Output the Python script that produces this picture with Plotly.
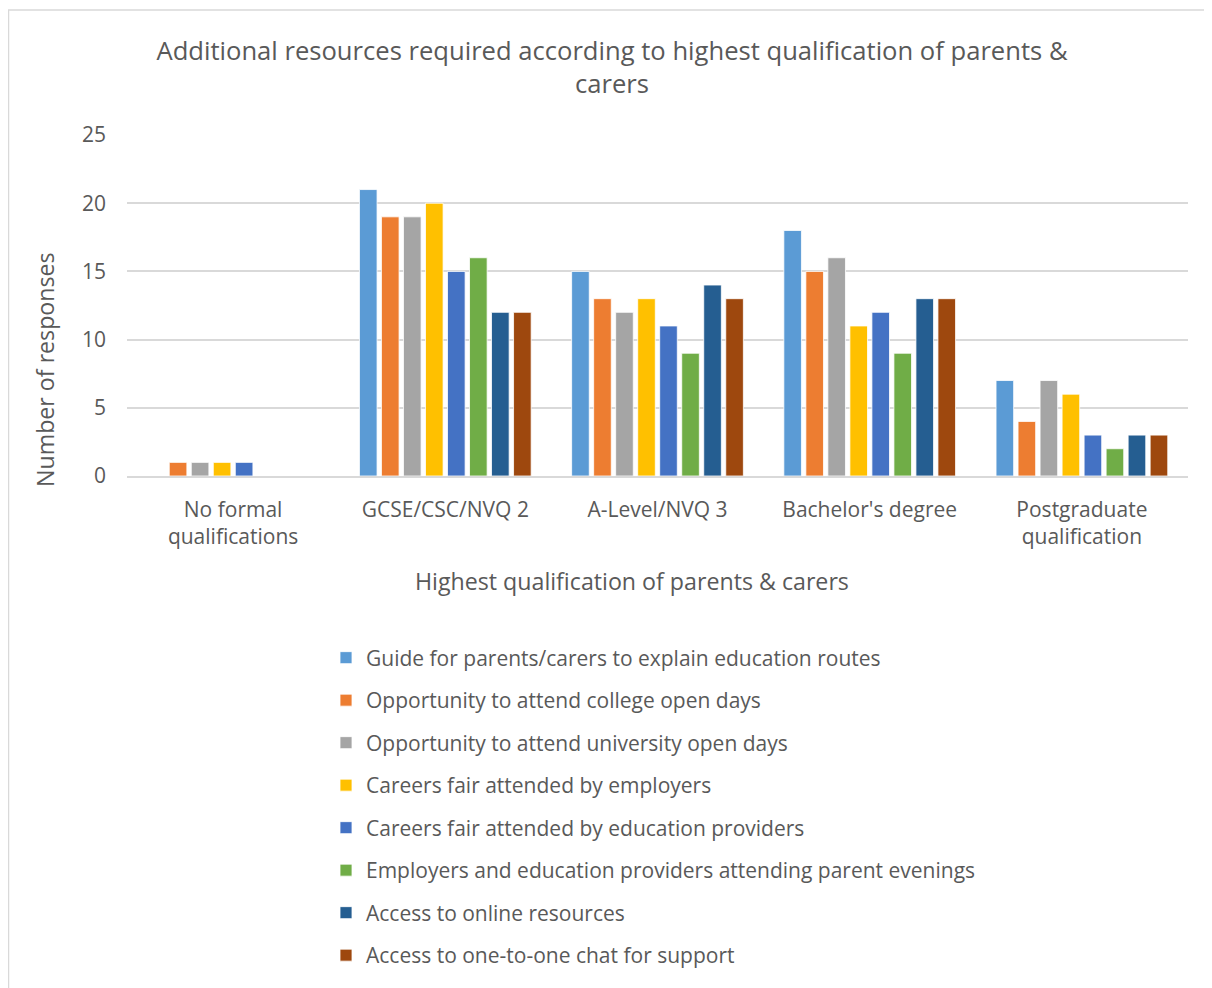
import plotly.graph_objects as go

categories = ["No formal<br>qualifications", "GCSE/CSC/NVQ 2", "A-Level/NVQ 3",
              "Bachelor's degree", "Postgraduate<br>qualification"]

series_names = [
    "Guide for parents/carers to explain education routes",
    "Opportunity to attend college open days",
    "Opportunity to attend university open days",
    "Careers fair attended by employers",
    "Careers fair attended by education providers",
    "Employers and education providers attending parent evenings",
    "Access to online resources",
    "Access to one-to-one chat for support",
]

guide_routes = [0, 21, 15, 18, 7]
college_open_days = [1, 19, 13, 15, 4]
university_open_days = [1, 19, 12, 16, 7]
fair_employers = [1, 20, 13, 11, 6]
fair_education = [1, 15, 11, 12, 3]
parent_evenings = [0, 16, 9, 9, 2]
online_resources = [0, 12, 14, 13, 3]
one_to_one_chat = [0, 12, 13, 13, 3]

series_values = [guide_routes, college_open_days, university_open_days, fair_employers,
                 fair_education, parent_evenings, online_resources, one_to_one_chat]

colors = ["#5B9BD5", "#ED7D31", "#A5A5A5", "#FFC000", "#4472C4", "#70AD47", "#255E91", "#9E480E"]

FONT = "Open Sans"
GREY = "#595959"

fig = go.Figure()
for i, (name, vals) in enumerate(zip(series_names, series_values)):
    fig.add_trace(go.Bar(
        x=categories, y=vals, name=name,
        marker=dict(color=colors[i], line=dict(color="white", width=0.8)),
        legendgroup=f"g{i}",
    ))

# page body adds an 8px offset; work in screenshot coordinates
OFF = 8
W, H = 1204, 980
L = 127 - OFF
T = 135 - OFF
R = W - (1188 - OFF)
B = H - (476 - OFF)
pw = W - L - R
ph = H - T - B

def px_x(sx):
    return (sx - OFF - L) / pw

def px_y(sy):
    return (H - B - (sy - OFF)) / ph

fig.update_layout(
    width=W, height=H,
    margin=dict(l=L, r=R, t=T, b=B),
    paper_bgcolor="white", plot_bgcolor="white",
    font=dict(family=FONT, color=GREY, size=18),
    barmode="group", bargap=0.17, bargroupgap=0.2,
    title=dict(text="Additional resources required according to highest qualification of parents &<br>carers",
               x=(612 - OFF) / W, xanchor="center",
               y=1 - (59.5 - OFF) / H, yanchor="middle",
               font=dict(size=25.6, color=GREY, family=FONT)),
    xaxis=dict(showgrid=False, showline=True, linecolor="#D9D9D9", linewidth=1.5,
               tickfont=dict(size=21, color=GREY), ticks="", ticklabelstandoff=14),
    yaxis=dict(range=[0, 25], dtick=5, showgrid=True, gridcolor="#D9D9D9", gridwidth=1.5,
               zeroline=False, showline=False, ticks="",
               tickfont=dict(size=21, color=GREY), ticklabelstandoff=20),
    legend=dict(orientation="v", x=px_x(326), xanchor="left", y=px_y(637.5), yanchor="top",
                font=dict(size=21, color=GREY, family=FONT), traceorder="grouped",
                tracegroupgap=12.2, itemwidth=30, bgcolor="rgba(0,0,0,0)"),
    showlegend=True,
)

fig.add_annotation(text="Number of responses", textangle=-90, x=px_x(45), y=px_y(370),
                   xref="paper", yref="paper", xanchor="center", yanchor="middle",
                   showarrow=False, font=dict(size=23.2, color=GREY, family=FONT))
fig.add_annotation(text="Highest qualification of parents & carers", x=px_x(632), y=px_y(581),
                   xref="paper", yref="paper", xanchor="center", yanchor="middle",
                   showarrow=False, font=dict(size=23.2, color=GREY, family=FONT))

fig.add_shape(type="rect", xref="paper", yref="paper",
              x0=px_x(8.5), x1=px_x(1240), y0=px_y(1010), y1=px_y(10),
              line=dict(color="#D9D9D9", width=1.5), fillcolor="rgba(0,0,0,0)", layer="below")

fig.write_html("out.html")
